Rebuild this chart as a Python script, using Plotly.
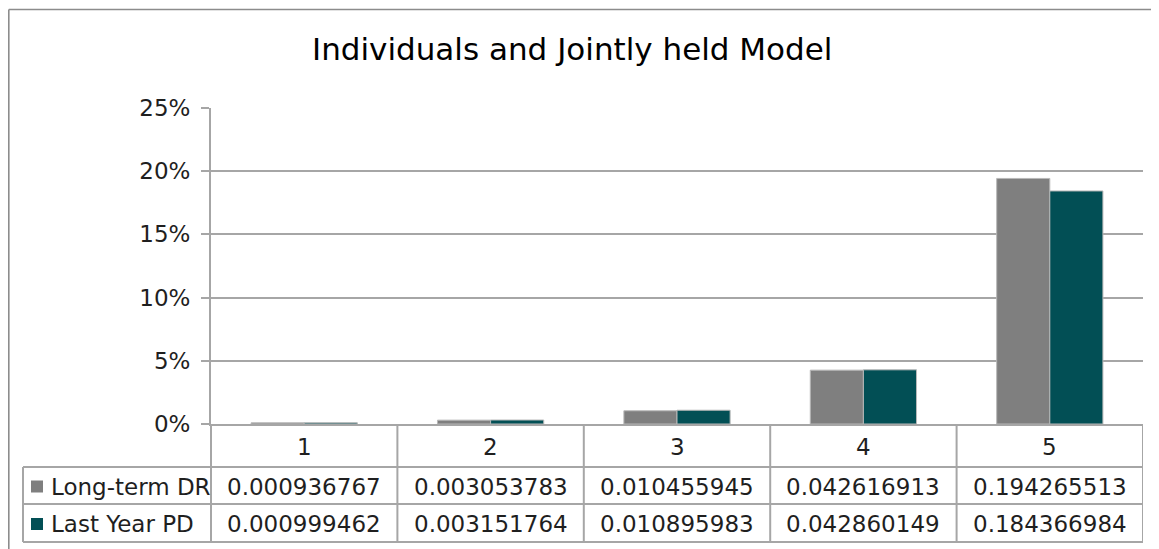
import plotly.graph_objects as go

categories = [1, 2, 3, 4, 5]
cat_labels = ["1", "2", "3", "4", "5"]
series_names = ["Long-term DR", "Last Year PD"]
long_term_dr = [0.000936767, 0.003053783, 0.010455945, 0.042616913, 0.194265513]
last_year_pd = [0.000999462, 0.003151764, 0.010895983, 0.042860149, 0.184366984]
colors = ["#7f7f7f", "#024f55"]
title_text = "Individuals and Jointly held Model"

FONT = "DejaVu Sans"
LINE = "#a6a6a6"
TXT = "#1f1f1f"

OFF = 8  # page body margin
W, H = 1159, 549
# plot area in page pixels: x 211..1143, y 108..424
L, T = 211 - OFF, 108 - OFF
R = W - (1143 - OFF)
B = H - (424 - OFF)
pw, ph = W - L - R, H - T - B

def px(xpage):
    return (xpage - OFF - L) / pw

def py(ypage):
    return (H - B - (ypage - OFF)) / ph

fig = go.Figure()
for name, vals, col in zip(series_names, [long_term_dr, last_year_pd], colors):
    fig.add_trace(go.Bar(x=categories, y=vals, name=name,
                         marker=dict(color=col, line=dict(color="#b8b8b8", width=1)),
                         showlegend=False))

shapes = []
shapes.append(dict(type="line", xref="paper", yref="paper", x0=px(8.8), x1=px(1175), y0=py(9.5), y1=py(9.5),
                   line=dict(color="#8c8c8c", width=1.6)))
shapes.append(dict(type="line", xref="paper", yref="paper", x0=px(8.8), x1=px(8.8), y0=py(9.5), y1=py(570),
                   line=dict(color="#8c8c8c", width=1.6)))

row_top = 424
row1 = 467
row2 = 504
row3 = 542
shapes.append(dict(type="line", xref="paper", yref="paper", x0=0, x1=0, y0=py(row_top), y1=py(row3),
                   line=dict(color=LINE, width=2)))
for c in categories:
    shapes.append(dict(type="line", xref="x", yref="paper", x0=c + 0.5, x1=c + 0.5,
                       y0=py(row_top), y1=py(row3), line=dict(color=LINE, width=2)))
shapes.append(dict(type="line", xref="paper", yref="paper", x0=px(23), x1=px(23), y0=py(row1), y1=py(row3),
                   line=dict(color=LINE, width=2)))
for yy in [row1, row2, row3]:
    shapes.append(dict(type="line", xref="paper", yref="paper", x0=px(23), x1=1, y0=py(yy), y1=py(yy),
                       line=dict(color=LINE, width=2)))

annotations = []
annotations.append(dict(text=title_text, xref="paper", yref="paper", x=px(572), y=py(49),
                        showarrow=False, font=dict(family=FONT, size=31, color="#000000"),
                        xanchor="center", yanchor="middle"))
for c, lab in zip(categories, cat_labels):
    annotations.append(dict(text=lab, xref="x", yref="paper", x=c, y=py((row_top + row1) / 2 + 1),
                            showarrow=False, font=dict(family=FONT, size=23, color=TXT),
                            xanchor="center", yanchor="middle"))
row_centers = [(row1 + row2) / 2 + 1, (row2 + row3) / 2 + 1]
for rc, name, vals, col in zip(row_centers, series_names, [long_term_dr, last_year_pd], colors):
    for c, v in zip(categories, vals):
        annotations.append(dict(text=f"{v:.9f}", xref="x", yref="paper", x=c, y=py(rc),
                                showarrow=False, font=dict(family=FONT, size=23, color=TXT),
                                xanchor="center", yanchor="middle"))
    annotations.append(dict(text=name, xref="paper", yref="paper", x=px(49), y=py(rc),
                            showarrow=False, font=dict(family=FONT, size=23, color=TXT),
                            xanchor="left", yanchor="middle"))
    shapes.append(dict(type="rect", xref="paper", yref="paper", x0=px(31), x1=px(43),
                       y0=py(rc - 6), y1=py(rc + 6), fillcolor=col, line=dict(width=0)))

fig.update_layout(
    width=W, height=H,
    margin=dict(l=L, r=R, t=T, b=B),
    paper_bgcolor="white", plot_bgcolor="white",
    barmode="group", bargap=0.43, bargroupgap=0,
    shapes=shapes, annotations=annotations,
    font=dict(family=FONT, color=TXT),
    xaxis=dict(range=[0.5, 5.5], showticklabels=False, showgrid=False, zeroline=False,
               showline=True, linecolor=LINE, linewidth=2, ticks=""),
    yaxis=dict(range=[0, 0.25], dtick=0.05, tickformat=".0%", showgrid=True, gridcolor=LINE,
               gridwidth=2, zeroline=False, showline=True, linecolor=LINE, linewidth=2,
               ticks="outside", ticklen=8, tickcolor=LINE, tickwidth=2,
               tickfont=dict(family=FONT, size=23, color=TXT), ticklabelstandoff=6),
)

fig.write_html("out.html")
